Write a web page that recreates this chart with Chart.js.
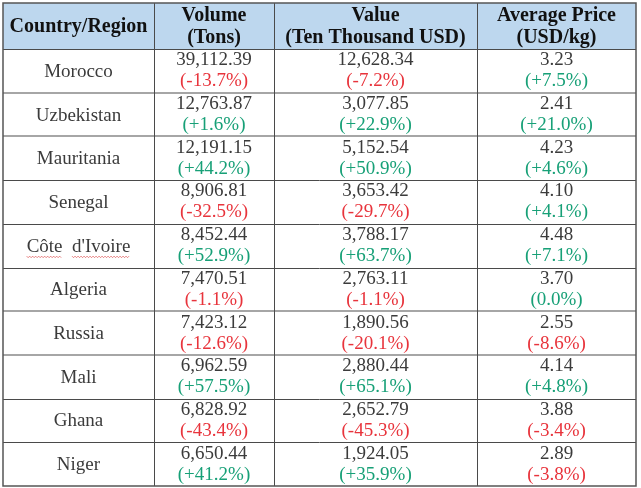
<!DOCTYPE html>
<html>
<head>
<meta charset="utf-8">
<script src="https://cdn.jsdelivr.net/npm/chart.js@4"></script>
<style>
  html, body { margin: 0; padding: 0; background: #fff; }
  #wrap { width: 641px; height: 488px; }
</style>
</head>
<body>
<div id="wrap"><canvas id="chart1" width="641" height="488"></canvas></div>
<script>
// table data
var countries = ['Morocco', 'Uzbekistan', 'Mauritania', 'Senegal', "Côte  d'Ivoire", 'Algeria', 'Russia', 'Mali', 'Ghana', 'Niger'];
var volume = [39112.39, 12763.87, 12191.15, 8906.81, 8452.44, 7470.51, 7423.12, 6962.59, 6828.92, 6650.44];
var volumeChg = [-13.7, 1.6, 44.2, -32.5, 52.9, -1.1, -12.6, 57.5, -43.4, 41.2];
var value = [12628.34, 3077.85, 5152.54, 3653.42, 3788.17, 2763.11, 1890.56, 2880.44, 2652.79, 1924.05];
var valueChg = [-7.2, 22.9, 50.9, -29.7, 63.7, -1.1, -20.1, 65.1, -45.3, 35.9];
var price = [3.23, 2.41, 4.23, 4.10, 4.48, 3.70, 2.55, 4.14, 3.88, 2.89];
var priceChg = [7.5, 21.0, 4.6, 4.1, 7.1, 0.0, -8.6, 4.8, -3.4, -3.8];
var headers = [['Country/Region'], ['Volume', '(Tons)'], ['Value', '(Ten Thousand USD)'], ['Average Price', '(USD/kg)']];

// layout (x units = column edges, y units = rows, header a bit taller)
var colEdges = [0, 151, 271, 474, 633];
var headerH = 1.053;
var grayLines = [1, 2, 6, 7];

var FONT = '"Liberation Serif", "Times New Roman", serif';
var RED = '#e8343c', GREEN = '#17a077', TXT = '#3b3b3b';

function num(v) {
    return v.toLocaleString('en-US', { minimumFractionDigits: 2, maximumFractionDigits: 2 });
}
function pct(v) {
    return '(' + (v > 0 ? '+' : '') + v.toFixed(1) + '%)';
}
function centers() {
    var c = [];
    for (var i = 0; i < colEdges.length - 1; i++) c.push((colEdges[i] + colEdges[i + 1]) / 2);
    return c;
}
var cx = centers();

function colData(k) {
    return countries.map(function (_, i) { return { x: cx[k], y: i + 0.5 }; });
}

var cellText = [
    function (i) { return [countries[i]]; },
    function (i) { return [num(volume[i]), pct(volumeChg[i]), volumeChg[i]]; },
    function (i) { return [num(value[i]), pct(valueChg[i]), valueChg[i]]; },
    function (i) { return [num(price[i]), pct(priceChg[i]), priceChg[i]]; }
];

var tablePlugin = {
    id: 'table',
    beforeDatasetsDraw: function (chart) {
        var c = chart.ctx, x = chart.scales.x, y = chart.scales.y;
        var L = x.getPixelForValue(colEdges[0]), R = x.getPixelForValue(colEdges[colEdges.length - 1]);
        var T = y.getPixelForValue(-headerH), B = y.getPixelForValue(countries.length);
        c.save();
        c.fillStyle = '#bdd7ee';
        c.fillRect(L, T, R - L, y.getPixelForValue(0) - T);
        // horizontal row lines
        for (var r = 0; r < countries.length; r++) {
            var py = Math.round(y.getPixelForValue(r));
            if (grayLines.indexOf(r) >= 0) {
                c.strokeStyle = '#a6a6a6'; c.lineWidth = 2;
            } else {
                c.strokeStyle = '#4a4a4a'; c.lineWidth = 1;
                py += 0.5;
            }
            c.beginPath(); c.moveTo(L, py); c.lineTo(R, py); c.stroke();
        }
        // vertical lines + border
        c.strokeStyle = '#4a4a4a'; c.lineWidth = 1;
        for (var k = 1; k < colEdges.length - 1; k++) {
            var px = Math.round(x.getPixelForValue(colEdges[k])) + 0.5;
            c.beginPath(); c.moveTo(px, T); c.lineTo(px, B); c.stroke();
        }
        c.strokeStyle = '#555'; c.lineWidth = 1.5;
        c.strokeRect(L, T, R - L, B - T);
        // header text
        c.fillStyle = '#111';
        c.font = 'bold 20px ' + FONT;
        c.textAlign = 'center'; c.textBaseline = 'middle';
        var hy = y.getPixelForValue(-headerH / 2);
        headers.forEach(function (h, k) {
            var px = x.getPixelForValue(cx[k]);
            if (h.length === 1) c.fillText(h[0], px, hy + 1);
            else { c.fillText(h[0], px, hy - 10); c.fillText(h[1], px, hy + 12); }
        });
        c.restore();
    },
    afterDatasetsDraw: function (chart) {
        var c = chart.ctx;
        c.save();
        c.font = '19px ' + FONT;
        c.textAlign = 'center'; c.textBaseline = 'middle';
        chart.data.datasets.forEach(function (ds, k) {
            chart.getDatasetMeta(k).data.forEach(function (el, i) {
                var t = cellText[k](i);
                if (t.length === 1) {
                    c.fillStyle = TXT;
                    c.fillText(t[0], el.x, el.y + 1);
                    if (t[0].indexOf('Ivoire') >= 0) {
                        // spell-check squiggle
                        var w = c.measureText(t[0]).width, x0 = el.x - w / 2;
                        var wCote = c.measureText('Côte').width, wGap = c.measureText('Côte  ').width;
                        c.strokeStyle = '#e06060'; c.lineWidth = 0.8;
                        [[x0, x0 + wCote], [x0 + wGap, x0 + w]].forEach(function (seg) {
                            c.beginPath();
                            for (var sx = seg[0], n = 0; sx <= seg[1]; sx += 1.5, n++) {
                                var sy = el.y + 11 + (n % 2 ? 1 : -0.5);
                                if (n === 0) c.moveTo(sx, sy); else c.lineTo(sx, sy);
                            }
                            c.stroke();
                        });
                    }
                } else {
                    c.fillStyle = TXT;
                    c.fillText(t[0], el.x, el.y - 10.5);
                    c.fillStyle = t[2] < 0 ? RED : GREEN;
                    c.fillText(t[1], el.x, el.y + 10.5);
                }
            });
        });
        c.restore();
    }
};

var cfg = {
    type: 'scatter',
    data: {
        datasets: [0, 1, 2, 3].map(function (k) {
            return { label: headers[k][0], data: colData(k), pointRadius: 0, pointHoverRadius: 0 };
        })
    },
    options: {
        responsive: false,
        animation: false,
        events: [],
        layout: { padding: { left: 3, top: 3, right: 5, bottom: 2 } },
        plugins: { legend: { display: false }, tooltip: { enabled: false } },
        scales: {
            x: { type: 'linear', display: false, min: colEdges[0], max: colEdges[colEdges.length - 1] },
            y: { type: 'linear', display: false, reverse: true, min: -headerH, max: countries.length }
        }
    },
    plugins: [tablePlugin]
};

var graf = new Chart(document.getElementById('chart1'), cfg);
</script>
</body>
</html>
